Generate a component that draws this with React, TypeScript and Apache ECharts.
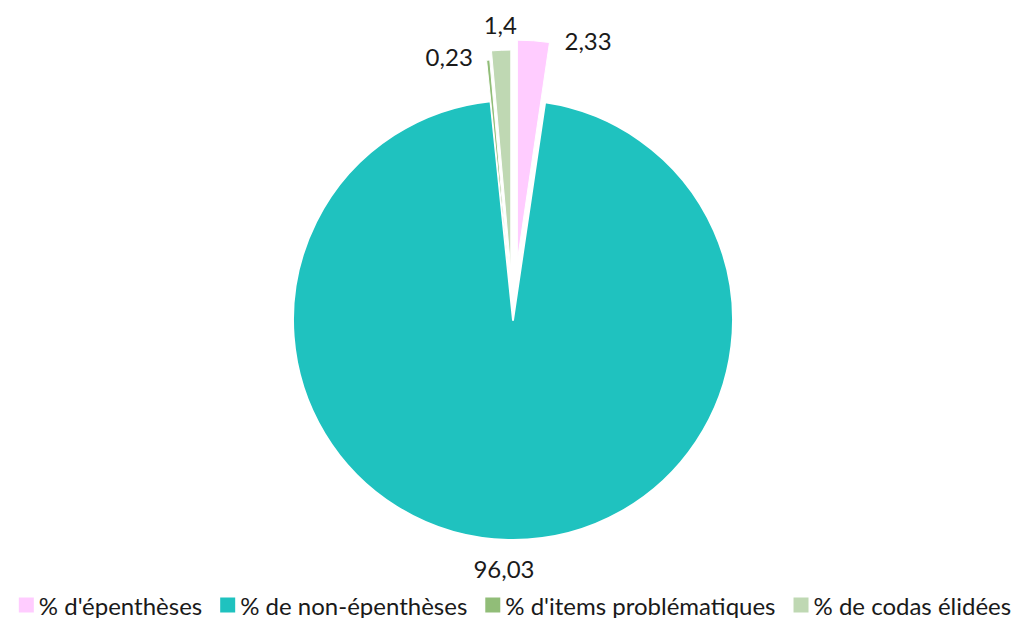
import React, { useEffect, useRef } from "react";
import * as echarts from "echarts";

const categories = [
  "% d'épenthèses",
  "% de non-épenthèses",
  "% d'items problématiques",
  "% de codas élidées",
];
const values = [2.33, 96.03, 0.23, 1.4];

const colors = ["#FFCCFF", "#1FC2BF", "#91BD78", "#BFD8B3"];
const explode = [60, 0, 41, 50];
const borderW = [1, 2, 1, 1];
const labelLen = [0, 29, 4, 26];
const labelLen2 = [26, 0, 10, 0];
const labelDist = [5, -27, 5, -17];
const drawOrder = [1, 0, 2, 3];

const FONT = "Lato, 'Open Sans', sans-serif";

export default function App() {
  const ref = useRef<HTMLDivElement>(null);
  useEffect(() => {
    document.body.style.margin = "0";
    const chart = echarts.init(ref.current!, null, { renderer: "svg" });
    const series = drawOrder.map((i) => ({
      type: "pie",
      name: "s" + i,
      center: [513, 320],
      radius: 220,
      startAngle: 90,
      clockwise: true,
      avoidLabelOverlap: false,
      selectedMode: "single",
      selectedOffset: explode[i],
      emphasis: { disabled: true },
      label: {
        position: "outside",
        fontFamily: FONT,
        fontSize: 24,
        color: "#1a1a1a",
        distanceToLabelLine: labelDist[i],
        formatter: (p: any) => String(p.value).replace(".", ","),
      },
      labelLine: { show: false, length: labelLen[i], length2: labelLen2[i] },
      data: categories.map((name, j) => ({
        name,
        value: values[j],
        selected: j === i && explode[i] > 0,
        itemStyle:
          j === i
            ? { color: colors[j], borderColor: "#ffffff", borderWidth: borderW[j] }
            : { color: "transparent", borderWidth: 0 },
        label: { show: j === i },
      })),
    }));
    chart.setOption({
      animation: false,
      backgroundColor: "#ffffff",
      legend: {
        top: 593,
        left: "center",
        padding: 0,
        itemWidth: 15,
        itemHeight: 15,
        itemGap: 18,
        icon: "rect",
        selectedMode: false,
        textStyle: { fontFamily: FONT, fontSize: 24, lineHeight: 24, color: "#1a1a1a" },
        data: categories.map((name, j) => ({
          name,
          itemStyle: { color: colors[j], opacity: 1, borderWidth: 0 },
        })),
      },
      series,
    });
    return () => chart.dispose();
  }, []);
  return <div ref={ref} style={{ width: 1030, height: 618 }} />;
}
